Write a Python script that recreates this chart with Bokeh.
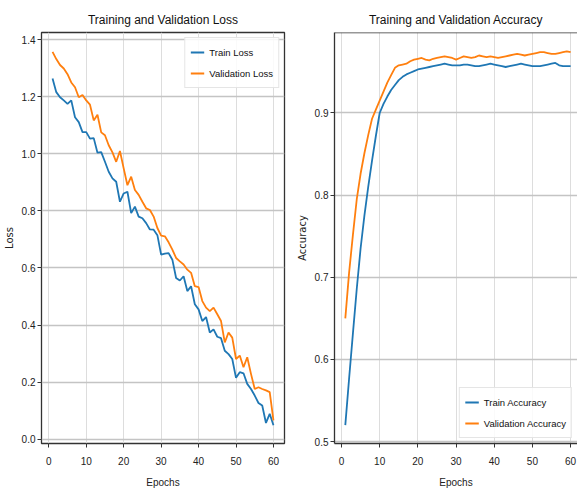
from bokeh.plotting import figure
from bokeh.layouts import row
from bokeh.models import FixedTicker, PrintfTickFormatter, Range1d, Legend, LegendItem, Span
from bokeh.embed import file_html
from bokeh.resources import INLINE

epochs = list(range(1, 61))

train_loss = [1.264, 1.216, 1.198, 1.187, 1.175, 1.187, 1.128, 1.111, 1.076, 1.076,
              1.053, 1.055, 1.004, 1.006, 0.972, 0.937, 0.914, 0.902, 0.832, 0.861,
              0.867, 0.792, 0.815, 0.780, 0.774, 0.757, 0.735, 0.734, 0.715, 0.647,
              0.650, 0.652, 0.629, 0.565, 0.556, 0.571, 0.519, 0.536, 0.473, 0.455,
              0.414, 0.428, 0.374, 0.385, 0.359, 0.354, 0.310, 0.298, 0.281, 0.215,
              0.235, 0.231, 0.194, 0.176, 0.153, 0.127, 0.118, 0.057, 0.089, 0.049]

val_loss = [1.357, 1.332, 1.311, 1.299, 1.279, 1.250, 1.233, 1.198, 1.206, 1.187,
            1.172, 1.117, 1.137, 1.075, 1.065, 1.030, 1.005, 0.972, 1.010, 0.949,
            0.890, 0.920, 0.873, 0.856, 0.832, 0.809, 0.803, 0.780, 0.740, 0.713,
            0.711, 0.690, 0.664, 0.635, 0.623, 0.612, 0.594, 0.583, 0.536, 0.533,
            0.484, 0.461, 0.449, 0.461, 0.438, 0.414, 0.339, 0.374, 0.356, 0.281,
            0.293, 0.252, 0.287, 0.229, 0.176, 0.182, 0.176, 0.171, 0.165, 0.066]

train_acc = [0.520, 0.577, 0.632, 0.686, 0.735, 0.775, 0.810, 0.842, 0.872, 0.900,
             0.911, 0.920, 0.928, 0.934, 0.940, 0.944, 0.947, 0.949, 0.951, 0.953,
             0.954, 0.955, 0.956, 0.957, 0.958, 0.959, 0.960, 0.959, 0.958, 0.958,
             0.958, 0.959, 0.959, 0.958, 0.957, 0.957, 0.958, 0.959, 0.960, 0.959,
             0.958, 0.957, 0.956, 0.957, 0.958, 0.959, 0.960, 0.959, 0.958, 0.957,
             0.957, 0.957, 0.958, 0.959, 0.960, 0.961, 0.958, 0.957, 0.957, 0.957]

val_acc = [0.650, 0.706, 0.752, 0.795, 0.826, 0.851, 0.873, 0.893, 0.904, 0.915,
           0.926, 0.937, 0.946, 0.955, 0.958, 0.959, 0.960, 0.963, 0.965, 0.966,
           0.967, 0.965, 0.964, 0.966, 0.967, 0.968, 0.969, 0.968, 0.967, 0.965,
           0.967, 0.969, 0.968, 0.967, 0.968, 0.970, 0.969, 0.968, 0.969, 0.968,
           0.967, 0.968, 0.969, 0.970, 0.971, 0.972, 0.971, 0.970, 0.971, 0.972,
           0.973, 0.974, 0.974, 0.973, 0.972, 0.972, 0.973, 0.974, 0.975, 0.974]

x_ticks = [0, 10, 20, 30, 40, 50, 60]
loss_ticks = [0.0, 0.2, 0.4, 0.6, 0.8, 1.0, 1.2, 1.4]
acc_ticks = [0.5, 0.6, 0.7, 0.8, 0.9]

BLUE = "#1f77b4"
ORANGE = "#ff7f0e"
SANS = "Liberation Sans"
FRAME = "#333333"


def style(p, yticks, yfmt, ylabel, title):
    p.title.text = title
    p.title.align = "center"
    p.title.text_font = SANS
    p.title.text_font_size = "12px"
    p.title.text_font_style = "normal"
    p.title.text_color = "#111111"
    p.title.standoff = 12
    p.xaxis.ticker = FixedTicker(ticks=x_ticks)
    p.xaxis.formatter = PrintfTickFormatter(format="%d")
    p.yaxis.ticker = FixedTicker(ticks=yticks)
    p.yaxis.formatter = PrintfTickFormatter(format=yfmt)
    p.xaxis.axis_label = "Epochs"
    p.yaxis.axis_label = ylabel
    for ax in (p.xaxis[0], p.yaxis[0]):
        ax.major_label_text_font = SANS
        ax.major_label_text_font_size = "10px"
        ax.major_label_text_color = "#222222"
        ax.axis_label_text_font_style = "normal"
        ax.axis_label_text_color = "#222222"
        ax.minor_tick_line_color = None
        ax.major_tick_in = 0
        ax.major_tick_out = 4
        ax.major_tick_line_color = FRAME
    p.xaxis.axis_label_text_font = SANS
    p.xaxis.axis_label_text_font_size = "10px"
    p.yaxis.axis_label_text_font = "DejaVu Sans"
    p.yaxis.axis_label_text_font_size = "10px"
    p.xaxis.major_label_standoff = 9
    p.xaxis.axis_label_standoff = 9
    p.yaxis.major_label_standoff = 2
    p.yaxis.axis_label_standoff = 4
    p.xgrid.ticker = FixedTicker(ticks=x_ticks)
    p.ygrid.ticker = FixedTicker(ticks=yticks)
    p.xgrid.grid_line_color = "#dddddd"
    p.xgrid.grid_line_width = 1
    p.ygrid.grid_line_color = "#c4c4c4"
    p.ygrid.grid_line_width = 1.5
    p.background_fill_color = "white"
    p.border_fill_color = "white"


def make_legend(p, r1, r2, n1, n2, loc):
    leg = Legend(items=[LegendItem(label=n1, renderers=[r1]),
                        LegendItem(label=n2, renderers=[r2])],
                 location=loc)
    leg.label_text_font = SANS
    leg.label_text_font_size = "9.5px"
    leg.label_text_color = "#111111"
    leg.border_line_color = "#cccccc"
    leg.border_line_width = 1
    leg.background_fill_alpha = 0.85
    leg.glyph_width = 14
    leg.glyph_height = 18
    leg.label_height = 18
    leg.label_standoff = 5
    leg.spacing = 3
    leg.padding = 5
    leg.margin = 5
    p.add_layout(leg)


H = 494

p1 = figure(width=288, height=H, output_backend="svg", toolbar_location=None,
            x_range=Range1d(-1.95, 62.95), y_range=Range1d(-0.015, 1.425),
            min_border_left=36, min_border_right=4, min_border_top=32, min_border_bottom=51)
style(p1, loss_ticks, "%.1f", "Loss", "Training and Validation Loss")
p1.outline_line_color = FRAME
p1.outline_line_width = 1.3
p1.xaxis.axis_line_color = None
p1.yaxis.axis_line_color = None
r1 = p1.line(epochs, train_loss, line_color=BLUE, line_width=1.8)
r2 = p1.line(epochs, val_loss, line_color=ORANGE, line_width=1.8)
make_legend(p1, r1, r2, "Train Loss", "Validation Loss", "top_right")

p2 = figure(width=289, height=H, output_backend="svg", toolbar_location=None,
            x_range=Range1d(-1.83, 61.8), y_range=Range1d(0.4976, 0.998),
            min_border_left=46, min_border_right=0, min_border_top=32, min_border_bottom=51)
style(p2, acc_ticks, "%.1f", "Accuracy", "Training and Validation Accuracy")
p2.outline_line_color = None
p2.xaxis.axis_line_color = FRAME
p2.yaxis.axis_line_color = FRAME
p2.xaxis.axis_line_width = 1.3
p2.yaxis.axis_line_width = 1.3
p2.add_layout(Span(location=0.998, dimension="width", line_color=FRAME, line_width=1.3))
r3 = p2.line(epochs, train_acc, line_color=BLUE, line_width=1.8)
r4 = p2.line(epochs, val_acc, line_color=ORANGE, line_width=1.8)
make_legend(p2, r3, r4, "Train Accuracy", "Validation Accuracy", "bottom_right")

layout = row(p1, p2)
open("out.html", "w").write(file_html(layout, INLINE))
